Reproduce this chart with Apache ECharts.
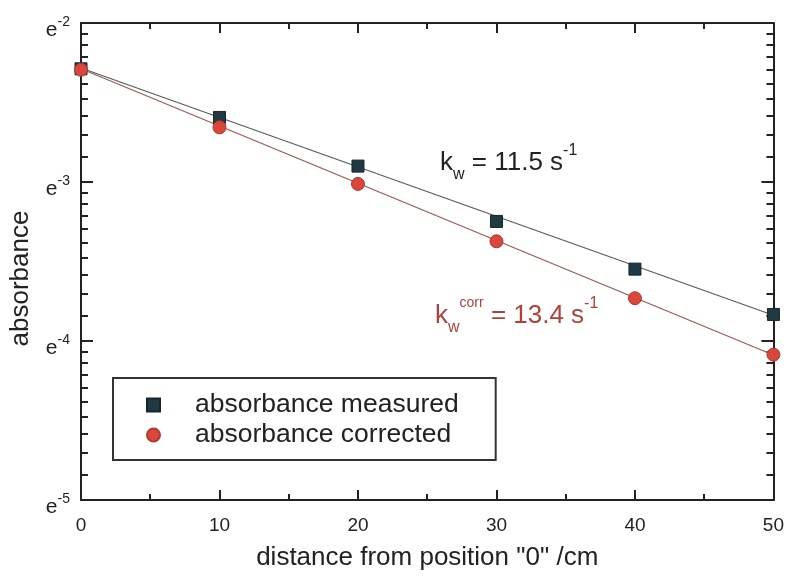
<!DOCTYPE html>
<html>
<head>
<meta charset="utf-8">
<script src="https://cdn.jsdelivr.net/npm/echarts@6/dist/echarts.min.js"></script>
<style>html,body{margin:0;padding:0;background:#fff;}#c{width:787px;height:576px;}</style>
</head>
<body>
<div id="c"></div>
<script>
// distance from position "0" (cm)
var positions = [0, 10, 20, 30, 40, 50];
// ln(absorbance)
var lnMeasured = [-2.288, -2.594, -2.900, -3.248, -3.548, -3.833];
var lnCorrected = [-2.294, -2.656, -3.012, -3.373, -3.731, -4.086];
// fitted straight lines (ln absorbance at the two ends)
var fitX = [0, 50];
var lnFitMeasured = [-2.283, -3.838];
var lnFitCorrected = [-2.288, -4.088];
var xTicks = [0, 10, 20, 30, 40, 50];
var yExponents = [-5, -4, -3, -2];

function pairs(xs, lns) {
  return xs.map(function (x, i) { return [x, Math.exp(lns[i])]; });
}

var FONT = 'Liberation Sans, Arial, Helvetica, sans-serif';
var AXIS_COLOR = '#222';

var chart = echarts.init(document.getElementById('c'), null, {renderer: 'canvas'});

var yMin = Math.exp(yExponents[0]);
var yMax = Math.exp(yExponents[yExponents.length - 1]);

var yLabelRich = {
  e: {fontSize: 21, lineHeight: 26, verticalAlign: 'bottom', color: '#222', fontFamily: FONT},
  s: {fontSize: 14, lineHeight: 15, verticalAlign: 'top', color: '#222', fontFamily: FONT}
};

function xAxisCfg(pos, withLabels) {
  var a = {
    type: 'value', min: xTicks[0], max: xTicks[xTicks.length - 1], interval: 10,
    position: pos,
    axisLine: {onZero: false, lineStyle: {color: AXIS_COLOR, width: 2}},
    axisTick: {inside: true, length: 10, lineStyle: {color: AXIS_COLOR, width: 2}},
    minorTick: {show: true, splitNumber: 2, length: 6, lineStyle: {color: AXIS_COLOR, width: 2}},
    axisLabel: {show: withLabels, fontSize: 19, color: '#222', margin: 16, fontFamily: FONT},
    splitLine: {show: false}
  };
  if (withLabels) {
    a.name = 'distance from position "0" /cm';
    a.nameLocation = 'middle';
    a.nameGap = 45;
    a.nameTextStyle = {fontSize: 26, color: '#222', fontFamily: FONT};
  }
  return a;
}

function yAxisCfg(pos, withLabels) {
  var a = {
    type: 'log', logBase: Math.E, min: yMin, max: yMax, interval: 1,
    position: pos,
    axisLine: {show: true, onZero: false, lineStyle: {color: AXIS_COLOR, width: 2}},
    axisTick: {inside: true, length: 12, lineStyle: {color: AXIS_COLOR, width: 2}},
    minorTick: {show: true, splitNumber: 10, length: 7, lineStyle: {color: AXIS_COLOR, width: 2}},
    axisLabel: withLabels ? {
      margin: 11,
      padding: [10, 0, 0, 0],
      formatter: function (v) { return '{e|e}{s|' + Math.round(Math.log(v)) + '}'; },
      rich: yLabelRich
    } : {show: false},
    splitLine: {show: false}
  };
  if (withLabels) {
    a.name = 'absorbance';
    a.nameLocation = 'middle';
    a.nameGap = 47;
    a.nameTextStyle = {fontSize: 26, color: '#222', fontFamily: FONT, padding: [0, 34, 0, 0]};
  }
  return a;
}

var option = {
  backgroundColor: '#fff',
  animation: false,
  grid: {left: 81, right: 10, top: 23, bottom: 73, containLabel: false},
  xAxis: [xAxisCfg('bottom', true), xAxisCfg('top', false)],
  yAxis: [yAxisCfg('left', true), yAxisCfg('right', false)],
  legend: {
    show: true,
    orient: 'vertical',
    left: 113, top: 378,
    padding: [12, 37, 10, 33],
    itemGap: 0,
    itemWidth: 13, itemHeight: 13,
    borderColor: '#333', borderWidth: 2,
    align: 'left',
    data: [
      {name: 'absorbance measured', icon: 'rect'},
      {name: 'absorbance corrected', icon: 'circle'}
    ],
    textStyle: {fontSize: 26.5, color: '#222', fontFamily: FONT, lineHeight: 30, padding: [0, 0, 0, 30]}
  },
  graphic: [{
    type: 'text', left: 440, top: 143, silent: true,
    style: {
      text: '{m|k}{b|w}{m| = 11.5 s}{t|-1}',
      rich: {
        m: {fontSize: 26, lineHeight: 40, verticalAlign: 'middle', fill: '#222', fontFamily: FONT},
        b: {fontSize: 16, lineHeight: 20, verticalAlign: 'bottom', fill: '#222', fontFamily: FONT},
        t: {fontSize: 16, lineHeight: 22, verticalAlign: 'top', fill: '#222', fontFamily: FONT}
      }
    }
  }, {
    type: 'text', left: 435, top: 296, silent: true,
    style: {
      text: '{m|k}{b|w}{c|corr}{m| = 13.4 s}{t|-1}',
      rich: {
        m: {fontSize: 26, lineHeight: 40, verticalAlign: 'middle', fill: '#b0403a', fontFamily: FONT},
        b: {fontSize: 16, lineHeight: 20, verticalAlign: 'bottom', fill: '#b0403a', fontFamily: FONT},
        c: {fontSize: 14, lineHeight: 20, verticalAlign: 'top', fill: '#b0403a', fontFamily: FONT},
        t: {fontSize: 16, lineHeight: 22, verticalAlign: 'top', fill: '#b0403a', fontFamily: FONT}
      }
    }
  }],
  series: [{
    name: 'fit measured', type: 'line', xAxisIndex: 0, yAxisIndex: 0,
    data: pairs(fitX, lnFitMeasured), showSymbol: false, silent: true, z: 1,
    lineStyle: {color: '#5a5a5a', width: 1.2}
  }, {
    name: 'fit corrected', type: 'line', xAxisIndex: 0, yAxisIndex: 0,
    data: pairs(fitX, lnFitCorrected), showSymbol: false, silent: true, z: 1,
    lineStyle: {color: '#9a5a52', width: 1.2}
  }, {
    name: 'absorbance measured', type: 'scatter', xAxisIndex: 0, yAxisIndex: 0,
    data: pairs(positions, lnMeasured), symbol: 'rect', symbolSize: 12, z: 3,
    itemStyle: {color: '#1f3a42', borderColor: '#14272d', borderWidth: 1, opacity: 1}
  }, {
    name: 'absorbance corrected', type: 'scatter', xAxisIndex: 0, yAxisIndex: 0,
    data: pairs(positions, lnCorrected), symbol: 'circle', symbolSize: 13, z: 4,
    itemStyle: {color: '#d9463c', borderColor: '#b3372f', borderWidth: 1, opacity: 1}
  }]
};

chart.setOption(option);
</script>
</body>
</html>
